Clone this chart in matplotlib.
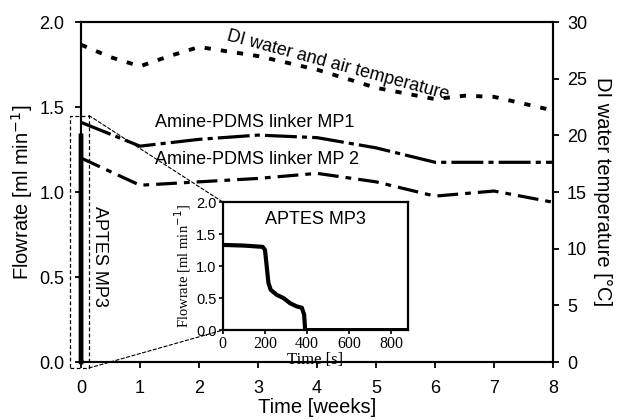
import matplotlib.pyplot as plt
from matplotlib.patches import Rectangle, ConnectionPatch
import numpy as np

plt.rcParams['font.family'] = ['Liberation Sans', 'DejaVu Sans']

# temperature (right axis), weeks
temp_weeks = [0, 0.5, 1, 1.5, 2, 2.5, 3, 4, 5, 6, 6.5, 7, 8]
temp_vals = [28.0, 26.9, 26.1, 27.0, 27.8, 27.4, 27.0, 25.8, 24.2, 23.2, 23.5, 23.4, 22.2]

# flowrates (left axis), weeks
mp_weeks = [0, 1, 2, 3, 4, 5, 6, 7, 8]
mp1_flow = [1.41, 1.27, 1.31, 1.335, 1.32, 1.26, 1.175, 1.175, 1.175]
mp2_flow = [1.20, 1.04, 1.06, 1.08, 1.11, 1.06, 0.976, 1.006, 0.94]

# APTES MP3 (inset), seconds
aptes_t = [0, 100, 190, 201, 209, 217, 228, 257, 289, 320, 352, 376, 387, 392, 500, 700, 880]
aptes_flow = [1.33, 1.32, 1.30, 1.25, 1.0, 0.74, 0.63, 0.55, 0.50, 0.42, 0.37, 0.35, 0.24, 0.0, 0.0, 0.0, 0.0]

fig = plt.figure(figsize=(6.17, 4.2), dpi=100)
ax = fig.add_axes([0.1313, 0.138, 0.765, 0.8095])
ax2 = ax.twinx()

ax.plot(mp_weeks, mp1_flow, color='black', lw=2.3, dashes=(10, 1.6, 1.6, 1.6))
ax.plot(mp_weeks, mp2_flow, color='black', lw=2.3, dashes=(6.5, 2.2, 1.8, 2.2))
# APTES run lasts < 900 s -> vertical line at week 0
aptes_w = np.array(aptes_t) / (7 * 24 * 3600)
ax.plot(aptes_w, aptes_flow, color='black', lw=3.2, clip_on=False, zorder=5)
ax.plot([aptes_w[0], aptes_w[0]], [0, aptes_flow[0]], color='black', lw=3.2, clip_on=False, zorder=5)

ax2.plot(temp_weeks, temp_vals, color='black', lw=2.8, dashes=(1.6, 2.6))

ax.set_xlim(0, 8)
ax.set_ylim(0, 2.0)
ax2.set_ylim(0, 30)
ax.set_xticks(range(0, 9))
ax.set_yticks([0, 0.5, 1.0, 1.5, 2.0])
ax.set_yticklabels(['0.0', '0.5', '1.0', '1.5', '2.0'])
ax2.set_yticks([0, 5, 10, 15, 20, 25, 30])
for a in (ax, ax2):
    a.tick_params(labelsize=13, width=1.3, length=4)
    for s in a.spines.values():
        s.set_linewidth(1.5)
ax.tick_params(axis='x', pad=9)
ax.tick_params(axis='y', pad=8)
ax2.tick_params(axis='y', pad=6)

ax.set_xlabel('Time [weeks]', fontsize=14.5, labelpad=1)
ax.set_ylabel('Flowrate [ml min$^{-1}$]', fontsize=14.5, labelpad=3)
ax2.set_ylabel('DI water temperature [°C]', fontsize=14.5, rotation=270, labelpad=18)

ax.text(1.25, 1.41, 'Amine-PDMS linker MP1', fontsize=13, va='center', ha='left')
ax.text(1.25, 1.19, 'Amine-PDMS linker MP 2', fontsize=13, va='center', ha='left')
ax.text(0.32, 0.62, 'APTES MP3', fontsize=13, rotation=270, va='center', ha='center')
ax2.text(4.36, 26.2, 'DI water and air temperature', fontsize=13, rotation=-15,
         va='center', ha='center', rotation_mode='anchor')

# dashed box around APTES line
ax.add_patch(Rectangle((-0.186, -0.035), 0.322, 1.485, fill=False, ls=(0, (3, 2)),
                       lw=0.9, color='black', clip_on=False, zorder=6))

# inset
ins = fig.add_axes([0.361, 0.214, 0.300, 0.305], zorder=5)
ins.set_facecolor('white')
ins.plot(aptes_t, aptes_flow, color='black', lw=3)
ins.set_xlim(0, 880)
ins.set_ylim(0, 2.0)
ins.set_xticks([0, 200, 400, 600, 800])
ins.set_yticks([0, 0.5, 1.0, 1.5, 2.0])
ins.set_yticklabels(['0.0', '0.5', '1.0', '1.5', '2.0'], fontsize=10.5)
ins.set_xticklabels(['0', '200', '400', '600', '800'], family='Liberation Serif', fontsize=11.5)
ins.tick_params(width=1.2, length=3, pad=1.5)
for s in ins.spines.values():
    s.set_linewidth(1.6)
ins.set_xlabel('Time [s]', family='Liberation Serif', fontsize=12, labelpad=0)
ins.set_ylabel('Flowrate [ml min$^{-1}$]', family='Liberation Serif', fontsize=10.5, labelpad=2)
ins.text(0.5, 0.86, 'APTES MP3', transform=ins.transAxes, fontsize=13, ha='center', va='center')

for yA, yB in ((1.45, 1), (-0.035, 0)):
    con = ConnectionPatch(xyA=(0.136, yA), coordsA=ax.transData, xyB=(0, yB),
                          coordsB=ins.transAxes, ls=(0, (3, 2)), lw=0.8, color='black')
    fig.add_artist(con)

fig.savefig('out.png', dpi=100)
